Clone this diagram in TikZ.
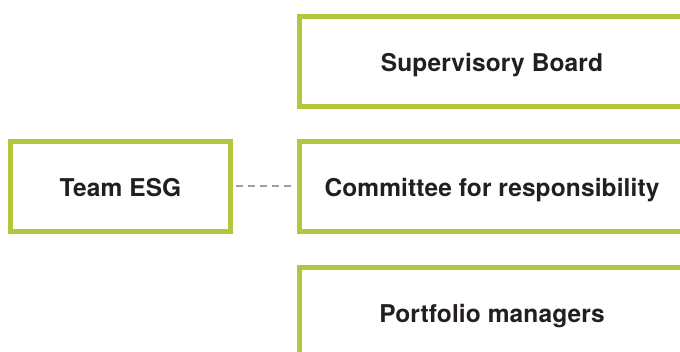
\documentclass[tikz,border=0pt]{standalone}
\usepackage{fontspec}
\setmainfont{TeX Gyre Heros}[LetterSpace=0.5]
\definecolor{esggreen}{RGB}{181,198,62}
\definecolor{esgtext}{RGB}{35,31,32}
\definecolor{esggray}{RGB}{157,159,162}
\newcommand{\boxtext}[1]{\raisebox{-10.5pt}[0pt][0pt]{#1}}
\begin{document}
\begin{tikzpicture}[x=1pt,y=-1pt,
  orgbox/.style={draw=esggreen, line width=5pt, fill=white, rectangle,
    inner sep=0pt, font=\fontsize{24.5}{27}\selectfont\bfseries, text=esgtext},
  linkline/.style={draw=esggray, line width=2pt, dash pattern=on 7pt off 5pt}]
\useasboundingbox (0,0) rectangle (680,352);
\clip (0,0) rectangle (680,352);
\fill[white] (0,0) rectangle (680,352);
\node[orgbox, minimum width=385pt, minimum height=90pt] (sb) at (492,61.5) {\boxtext{Supervisory Board}};
\node[orgbox, minimum width=385pt, minimum height=90pt] (cr) at (492,186.5) {\boxtext{Committee for responsibility}};
\node[orgbox, minimum width=385pt, minimum height=90pt] (pm) at (492,312.5) {\boxtext{Portfolio managers}};
\node[orgbox, minimum width=220pt, minimum height=90pt] (te) at (120.5,186.5) {\boxtext{Team ESG}};
\draw[linkline] ([xshift=2.5pt]te.east) -- ([xshift=-2.5pt]cr.west);
\end{tikzpicture}
\end{document}
